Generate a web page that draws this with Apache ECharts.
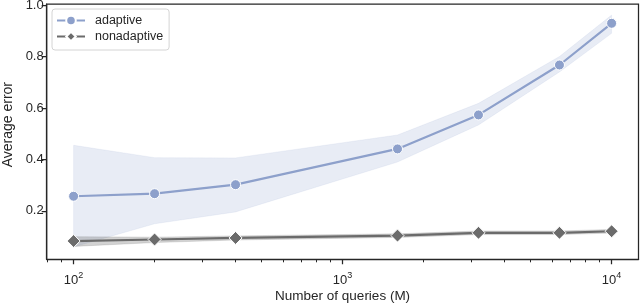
<!DOCTYPE html>
<html>
<head>
<meta charset="utf-8">
<script src="https://cdn.jsdelivr.net/npm/echarts@6/dist/echarts.min.js"></script>
<style>html,body{margin:0;padding:0;background:#fff}#c{width:640px;height:304px}</style>
</head>
<body>
<div id="c"></div>
<script>
const queries = [100, 200, 400, 1600, 3200, 6400, 10000];
const adaptive = [0.257, 0.267, 0.302, 0.441, 0.573, 0.767, 0.929];
const adaptiveLow = [0.060, 0.150, 0.196, 0.390, 0.534, 0.740, 0.890];
const adaptiveHigh = [0.455, 0.407, 0.406, 0.495, 0.618, 0.800, 0.961];
const nonadaptive = [0.083, 0.089, 0.095, 0.104, 0.115, 0.115, 0.121];
const nonadaptiveLow = [0.062, 0.077, 0.087, 0.097, 0.108, 0.108, 0.114];
const nonadaptiveHigh = [0.100, 0.098, 0.103, 0.111, 0.122, 0.122, 0.128];
const xMajorTicks = [100, 1000, 10000];
const xMinorTicks = [80, 90, 200, 300, 400, 500, 600, 700, 800, 900, 2000, 3000, 4000, 5000, 6000, 7000, 8000, 9000];
const yTicks = [0.2, 0.4, 0.6, 0.8, 1.0];

const FONT = 'Liberation Sans, Arial, sans-serif';
const INK = '#262626';
const BLUE = '#8da0cb';
const GRAY = '#6b6b6b';

const pairs = (ys) => queries.map((x, i) => [x, ys[i]]);

function band(lo, hi, color, opacity) {
  return {
    type: 'custom', silent: true, z: 1, clip: true,
    data: queries.map((x, i) => [x, lo[i], hi[i]]),
    encode: { x: 0, y: [1, 2] },
    renderItem: (params, api) => {
      if (params.dataIndex !== 0) return null;
      const pts = [];
      for (let i = 0; i < queries.length; i++) pts.push(api.coord([queries[i], hi[i]]));
      for (let i = queries.length - 1; i >= 0; i--) pts.push(api.coord([queries[i], lo[i]]));
      return { type: 'polygon', shape: { points: pts },
        style: { fill: color, opacity: opacity, stroke: color, lineWidth: 0.6 } };
    }
  };
}

const chart = echarts.init(document.getElementById('c'), null, { renderer: 'canvas' });
chart.setOption({
  animation: false,
  grid: { left: 46.7, right: 1.5, top: 4, bottom: 44.7, containLabel: false, outerBoundsMode: 'none',
    show: true, borderColor: INK, borderWidth: 1.25, backgroundColor: 'transparent' },
  legend: {
    data: ['adaptive', 'nonadaptive'],
    orient: 'vertical', left: 52, top: 9,
    padding: [5, 6, 7, 4], itemGap: 3, itemWidth: 28, itemHeight: 12,
    backgroundColor: '#fff', borderColor: '#d4d4d4', borderWidth: 1, borderRadius: 3,
    textStyle: { fontFamily: FONT, fontSize: 12.5, color: INK, padding: [0, 0, 0, 5] }
  },
  xAxis: [
    {
      type: 'log', logBase: 10, min: Math.pow(10, 1.9), max: Math.pow(10, 4.1),
      name: 'Number of queries (M)', nameLocation: 'middle', nameGap: 30, nameMoveOverlap: false,
      nameTextStyle: { fontFamily: FONT, fontSize: 13.5, color: INK },
      axisLine: { show: true, lineStyle: { color: INK, width: 1.25 } },
      axisTick: { show: true, length: 5, customValues: xMajorTicks, lineStyle: { color: INK, width: 1.25 } },
      axisLabel: {
        customValues: xMajorTicks, margin: 12, color: INK, fontFamily: FONT, fontSize: 13,
        formatter: (v) => '10{sup|' + Math.round(Math.log10(v)) + '}',
        rich: { sup: { fontSize: 9, fontFamily: FONT, color: INK, padding: [0, 0, 9, 0] } }
      },
      splitLine: { show: false }
    },
    {
      type: 'log', logBase: 10, min: Math.pow(10, 1.9), max: Math.pow(10, 4.1), position: 'bottom',
      axisLine: { show: false },
      axisTick: { show: true, length: 3, customValues: xMinorTicks, lineStyle: { color: INK, width: 1 } },
      axisLabel: { show: false }, splitLine: { show: false }
    }
  ],
  yAxis: {
    type: 'value', min: 0.012, max: 1.004,
    name: 'Average error', nameLocation: 'middle', nameGap: 32, nameMoveOverlap: false,
    nameTextStyle: { fontFamily: FONT, fontSize: 14, color: INK, padding: [0, 0, 0, 14] },
    axisLine: { show: true, lineStyle: { color: INK, width: 1.25 } },
    axisTick: { show: true, length: 5, customValues: yTicks, lineStyle: { color: INK, width: 1.25 } },
    axisLabel: { customValues: yTicks, margin: 3, color: INK, fontFamily: FONT, fontSize: 13, formatter: (v) => v.toFixed(1) },
    splitLine: { show: false }
  },
  series: [
    band(adaptiveLow, adaptiveHigh, BLUE, 0.2),
    band(nonadaptiveLow, nonadaptiveHigh, GRAY, 0.3),
    { name: 'adaptive', type: 'line', data: pairs(adaptive), symbol: 'circle', symbolSize: 10,
      lineStyle: { color: BLUE, width: 2.2 }, itemStyle: { color: BLUE, borderColor: '#fff', borderWidth: 1 }, z: 3 },
    { name: 'nonadaptive', type: 'line', data: pairs(nonadaptive), symbol: 'diamond', symbolSize: 13,
      lineStyle: { color: GRAY, width: 2.2 }, itemStyle: { color: GRAY, borderColor: '#fff', borderWidth: 1 }, z: 3 }
  ]
});
</script>
</body>
</html>
